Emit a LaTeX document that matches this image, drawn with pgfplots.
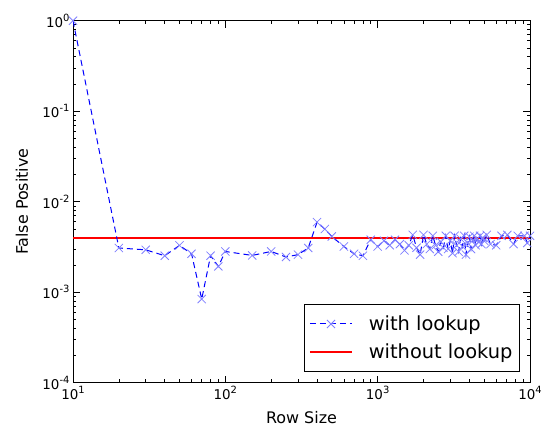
\documentclass[border=0pt]{standalone}
\usepackage{fontspec}
\setmainfont{DejaVu Sans}
\usepackage{pgfplots}
\pgfplotsset{compat=1.18}
\definecolor{mplred}{rgb}{1,0,0}
\definecolor{mplblue}{rgb}{0,0,1}
\newcommand{\tp}[1]{10\raisebox{0.45em}{\fontsize{10}{10}\selectfont #1}}
\begin{document}
\begin{tikzpicture}
\begin{axis}[
  name=ax,
  xmode=log, ymode=log,
  scale only axis, width=457bp, height=362bp,
  xmin=10, xmax=10000, ymin=1e-4, ymax=1,
  xtick={10,100,1000,10000},
  xticklabels={\tp{1},\tp{2},\tp{3},\tp{4}},
  ytick={1e-4,1e-3,1e-2,1e-1,1},
  yticklabels={\tp{-4},\tp{-3},\tp{-2},\tp{-1},\tp{0}},
  tick pos=both, xticklabel pos=lower, yticklabel pos=left,
  tick align=inside,
  major tick length=7bp, minor tick length=3.5bp,
  tick style={black, line width=0.7bp},
  axis line style={line width=1bp},
  ticklabel style={font=\fontsize{13.5}{15}\selectfont},
  label style={font=\fontsize{16}{18}\selectfont},
  xlabel={Row Size}, ylabel={False Positive},
  xlabel style={at={(axis description cs:0.5,-0.0967)}, anchor=center},
  ylabel style={at={(axis description cs:-0.1116,0.5)}, anchor=center},
  legend cell align=left,
  legend style={at={(0.978,0.030)}, anchor=south east, draw=black, line width=1bp,
    font=\fontsize{19.5}{22}\selectfont, inner xsep=5bp, inner ysep=9bp, row sep=8bp},
]
\addplot[color=mplred, line width=1.6bp, mark=none, forget plot] coordinates {(10,0.004) (1000,0.004) (10000,0.004)};
\addplot[draw=mplblue, line width=1bp, dash pattern=on 6bp off 4bp,
  mark=x, mark size=5.8bp, mark options={solid, draw=mplblue!50, line width=0.8bp},
  legend image code/.code={\draw[mark repeat=2,mark phase=2] plot coordinates {(0bp,0bp) (21bp,0bp) (42bp,0bp)}; \path (56bp,0bp);}]
coordinates {
(10,1) (20,3.08e-3) (30,2.94e-3) (40,2.53e-3) (50,3.29e-3) (60,2.66e-3)
(70,8.4e-4) (80,2.53e-3) (90,1.93e-3) (100,2.82e-3) (150,2.55e-3)
(200,2.82e-3) (250,2.45e-3) (300,2.6e-3) (350,3.08e-3) (400,5.95e-3)
(450,4.99e-3) (500,4.13e-3) (600,3.2e-3) (700,2.66e-3) (800,2.53e-3)
(900,3.8e-3) (1000,3.2e-3)
(1100,3.7e-3) (1200,3.3e-3) (1300,3.8e-3) (1400,3.4e-3) (1500,2.9e-3)
(1600,3.3e-3) (1700,4.3e-3) (1800,3.1e-3) (1900,2.6e-3) (2000,4.3e-3)
(2100,3.4e-3) (2200,3.0e-3) (2300,4.2e-3) (2400,3.3e-3) (2500,2.8e-3)
(2600,3.6e-3) (2700,3.1e-3) (2800,4.2e-3) (2900,3.0e-3) (3000,3.7e-3)
(3100,2.7e-3) (3200,4.2e-3) (3300,3.3e-3) (3400,2.8e-3) (3500,3.9e-3)
(3600,3.2e-3) (3700,4.2e-3) (3800,2.6e-3) (3900,3.5e-3) (4000,4.1e-3)
(4100,3.0e-3) (4200,3.7e-3) (4300,4.2e-3) (4400,3.3e-3) (4500,3.9e-3)
(4600,3.6e-3) (4700,4.2e-3) (4800,3.4e-3) (4900,4.0e-3) (5000,3.7e-3)
(5200,4.3e-3) (5500,3.4e-3) (6000,3.3e-3) (6500,4.2e-3) (7100,4.3e-3)
(7800,3.4e-3) (8300,4.2e-3) (9200,4.2e-3) (9600,3.5e-3) (10000,4.2e-3)
};
\addlegendentry{with lookup}
\addlegendimage{draw=mplred, line width=1.6bp, mark=none, legend image code/.code={\draw (0bp,0bp) -- (42bp,0bp); \path (56bp,0bp);}}
\addlegendentry{without lookup}
\end{axis}
\pgfresetboundingbox
\path ([shift={(-73bp,-45bp)}]ax.south west) rectangle ([shift={(13bp,20.7bp)}]ax.north east);
\end{tikzpicture}
\end{document}
